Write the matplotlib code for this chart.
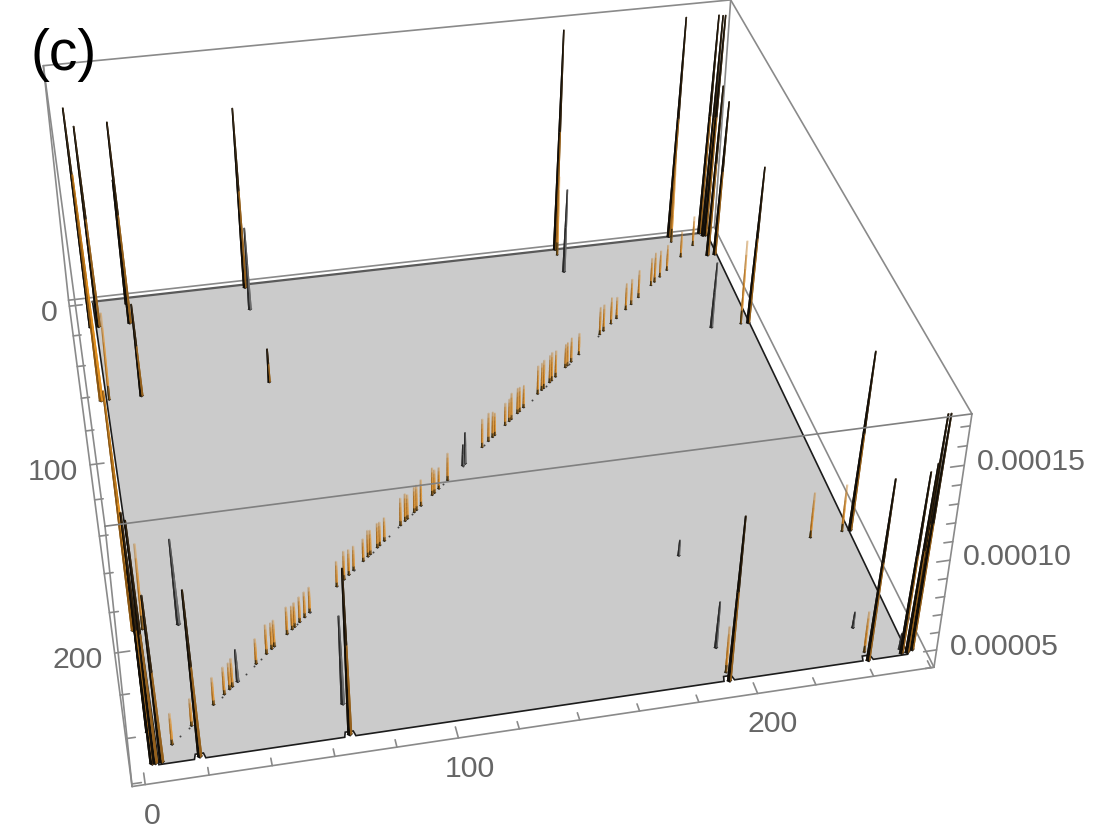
import numpy as np
import matplotlib
matplotlib.use('Agg')
import matplotlib.pyplot as plt
from matplotlib.collections import PolyCollection
from matplotlib.colors import to_rgba

# spike positions on the 256 x 256 grid and heights (units of 1e-5)
tall_i = [3, 6, 18, 3, 4, 3, 6, 18, 18, 18, 65, 66, 192, 255, 240, 252, 254, 255, 256, 192,
          240, 253, 255, 254, 252, 255, 255, 66]
tall_j = [18, 18, 65, 254, 254, 240, 254, 254, 18, 5, 3, 254, 255, 191, 255, 254, 254, 253,
          253, 1, 1, 1, 3, 3, 17, 17, 65, 66]
tall_z = [16.9, 15.85, 9.6, 17.4, 17.0, 13.1, 13.2, 13.2, 15.9, 11.6, 14.8, 13.2, 13.2, 14.2,
          14.1, 14.1, 14.5, 16.9, 16.9, 17.2, 17.25, 17.2, 17.3, 17.3, 14.35, 13.4, 13.4, 6.2]

orange_i = [3, 3]
orange_j = [65, 192]
orange_z = [17.0, 17.1]

grey_i = [18, 65, 66, 192, 192, 192, 240, 240, 252]
grey_j = [192, 18, 240, 239, 17, 192, 239, 65, 252]
grey_z = [9.0, 9.1, 9.1, 6.8, 9.2, 5.1, 5.1, 8.1, 5.1]

# thin orange peaks off the diagonal
pale_i = [6, 6, 192, 252, 240, 240, 192, 240, 252, 248]
pale_j = [65, 192, 251, 191, 192, 251, 5, 5, 65, 9]
pale_z = [9.3, 9.0, 6.8, 6.9, 6.8, 6.5, 9.0, 9.3, 9.2, 6.0]

# near-diagonal row of small peaks
diag_i = [241, 233, 229, 226, 224, 217, 213, 210, 205, 202, 198, 196, 185, 181, 179, 178, 173,
          171, 170, 167, 166, 164, 157, 155, 154, 151, 150, 148, 143, 142, 140, 137, 121, 117,
          115, 114, 109, 107, 106, 103, 102, 100, 93, 91, 90, 87, 86, 84, 80, 78, 76, 73, 62,
          60, 58, 56, 55, 53, 48, 47, 45, 41, 32, 31, 29, 25, 17, 10]
diag_z = [5.76, 5.75, 5.81, 5.99, 5.87, 5.86, 5.74, 5.8, 5.49, 5.79, 5.79, 5.85, 5.48, 5.65,
          5.59, 5.59, 5.77, 5.89, 5.83, 5.88, 5.82, 5.88, 5.52, 5.64, 5.7, 5.75, 5.52, 5.51,
          5.51, 5.69, 5.86, 5.86, 5.79, 5.44, 5.55, 5.79, 5.72, 5.66, 5.66, 5.6, 5.78, 5.78,
          5.54, 5.54, 5.6, 5.59, 5.71, 5.48, 5.59, 5.65, 5.82, 5.64, 5.64, 5.64, 5.63, 5.58,
          5.52, 5.74, 5.69, 5.68, 5.85, 5.62, 5.79, 5.68, 5.73, 5.73, 5.72, 5.94]
diag_grey_i = [129, 128, 34]
diag_grey_z = [6.03, 5.44, 6.01]
speck_i = [13, 16, 28, 37, 40, 43, 57, 62, 80, 88, 95, 99, 105, 119, 128, 138, 161, 168, 180, 195]

x_ticks = np.arange(0, 261, 20)
y_ticks = np.arange(0, 261, 20)
z_ticks = np.arange(4, 18)

lo, hi = -4.1, 261.1
z_lo, z_hi = 4.0, 17.6
plane_z = 4.2
plane_left, plane_right, plane_back, plane_front = 5.0, 254.0, 1.0, 255.0

# perspective camera from the eight corners of the bounding box (pixels)
box_pts = [(lo, lo, z_lo), (hi, lo, z_lo), (hi, hi, z_lo), (lo, hi, z_lo),
           (lo, lo, z_hi), (hi, lo, z_hi), (hi, hi, z_hi), (lo, hi, z_hi)]
box_px = [(68, 300), (715, 228), (934, 668), (132, 785),
          (44, 65), (730, 0), (972, 412), (105, 529)]
rows = []
for (x, y, z), (u, v) in zip(box_pts, box_px):
    rows.append([x, y, z, 1, 0, 0, 0, 0, -u*x, -u*y, -u*z, -u])
    rows.append([0, 0, 0, 0, x, y, z, 1, -v*x, -v*y, -v*z, -v])
cam = np.linalg.svd(np.array(rows))[2][-1].reshape(3, 4)


def project(x, y, z):
    w = cam @ np.array([x, y, z, 1.0])
    return w[0]/w[2], w[1]/w[2]


def ring(i, j, z, hw):
    # west, north, east, south corners of a square cross-section
    return [project(i-hw, j, z), project(i, j-hw, z), project(i+hw, j, z), project(i, j+hw, z)]


def column(i0, i1, j, z0, z1, w0, w1, left, right):
    # one tapered section: back faces first, then the two facing the camera
    a = ring(i0, j, z0, w0)
    b = ring(i1, j, z1, w1)
    return [([a[0], a[1], b[1], b[0]], left), ([a[1], a[2], b[2], b[1]], right),
            ([a[0], a[3], b[3], b[0]], left), ([a[3], a[2], b[2], b[3]], right)]


def solid_spike(i, j, z, left, right, tip):
    hw = 1.0 - 0.6*plane_z/z
    di = (i-128)*0.017*(z-plane_z)/13.0    # tips splay outwards slightly
    zm = plane_z + 0.55*(z-plane_z)
    wm = hw + 0.55*(0.3-hw)
    im = i + 0.55*di
    return ([(ring(i, j, plane_z, hw+0.25), '#141414')]
            + column(i, im, j, plane_z, zm, hw, wm, left, right)
            + column(im, i+di, j, zm, z, wm, 0.3, left, tip))


def pale_spike(i, j, z, left, right, tip):
    # narrow peak that washes out towards its tip
    out = [(ring(i, j, plane_z, 0.7), '#141414')]
    levels = np.linspace(plane_z, z, 7)
    fade = [1.0, 1.0, 0.9, 0.75, 0.55, 0.3]
    for k in range(6):
        lc = to_rgba('#40300f' if k == 0 else left, fade[k])
        rc = to_rgba('#8a5c1e' if k == 0 else right, fade[k])
        out += column(i, i, j, levels[k], levels[k+1], 0.42, 0.38, lc, rc)
    return out


peaks = []
for i, j, z in zip(tall_i, tall_j, tall_z):
    peaks.append((j, i, z, solid_spike, '#120e08', '#94601c', '#33230e'))
for i, j, z in zip(orange_i, orange_j, orange_z):
    peaks.append((j, i, z, solid_spike, '#8a5612', '#e3901d', '#c27a18'))
for i, j, z in zip(grey_i, grey_j, grey_z):
    peaks.append((j, i, z, solid_spike, '#2a2a2a', '#6c6c6c', '#5a5a5a'))
for i, j, z in zip(pale_i, pale_j, pale_z):
    peaks.append((j, i, z, pale_spike, '#a66a1e', '#e09a3e', None))
for i, z in zip(diag_i, diag_z):
    peaks.append((257-i, i, z, pale_spike, '#a66a1e', '#e09a3e', None))
for i, z in zip(diag_grey_i, diag_grey_z):
    peaks.append((257-i, i, z, solid_spike, '#2a2a2a', '#6c6c6c', '#5a5a5a'))
peaks.sort(key=lambda p: (p[0], p[1]))

polys, colors = [], []
for j, i, z, shape, left, right, tip in peaks:
    for pts, c in shape(i, j, z, left, right, tip):
        polys.append(pts)
        colors.append(c)

# floor outline, notched where a peak sits on the front edge
front_cols = sorted({i for i, j in zip(tall_i + grey_i, tall_j + grey_j)
                     if j >= 253 and 10 < i < 245})
floor = [(plane_left, plane_back), (256.0, plane_back), (plane_right, plane_front)]
for i in reversed(front_cols):
    floor += [(i+1.8, plane_front), (i+1.3, plane_front-2.2), (i-1.3, plane_front-2.2),
              (i-1.8, plane_front)]
floor.append((plane_left, plane_front))
floor_px = [project(x, y, plane_z) for x, y in floor]

fig = plt.figure(figsize=(11.18, 8.33), dpi=100)
ax = fig.add_axes([0, 0, 1, 1])
ax.set_xlim(0, 1118)
ax.set_ylim(833, 0)
ax.axis('off')

frame = '#8a8a8a'
label_color = '#666666'


def edge(a, b, zorder=1, color=frame, lw=1.2):
    pa, pb = project(*a), project(*b)
    ax.plot([pa[0], pb[0]], [pa[1], pb[1]], color=color, lw=lw, zorder=zorder,
            solid_capstyle='round', clip_on=False)


# frame lines behind the floor
for a, b in [((lo, lo, z_lo), (hi, lo, z_lo)), ((lo, lo, z_lo), (lo, lo, z_hi)),
             ((hi, lo, z_lo), (hi, lo, z_hi)), ((lo, lo, z_hi), (hi, lo, z_hi)),
             ((lo, lo, z_hi), (lo, hi, z_hi)), ((hi, lo, z_hi), (hi, hi, z_hi)),
             ((lo, lo, z_lo), (lo, hi, z_lo)), ((hi, lo, z_lo), (hi, hi, z_lo)),
             ((lo, hi, z_lo), (hi, hi, z_lo)), ((lo, hi, z_lo), (lo, hi, z_hi)),
             ((hi, hi, z_lo), (hi, hi, z_hi))]:
    edge(a, b)

ax.fill(*zip(*floor_px), facecolor='#cbcbcb', edgecolor='none', zorder=2)
outline = floor_px[1:] + floor_px[:1]
ax.plot(*zip(*outline), color='#1c1c1c', lw=1.2, zorder=2, solid_joinstyle='miter')
ax.plot(*zip(*floor_px[:2]), color='#5a5a5a', lw=1.6, zorder=2)

ax.add_collection(PolyCollection(polys, facecolors=colors, edgecolors='none', zorder=3))

speck_px = [project(i, 257-i, plane_z) for i in speck_i]
ax.plot(*zip(*speck_px), ls='none', marker='o', ms=1.4, mew=0, color='#444444', zorder=3)

# front top edge crosses in front of everything
edge((lo, hi, z_hi), (hi, hi, z_hi), zorder=4, color='#808080')

# ticks
for t in x_ticks:
    size = 5.0 if t % 100 == 0 else 3.3
    edge((t, hi, z_lo), (t, hi-size, z_lo))
for t in y_ticks:
    size = 5.0 if t % 100 == 0 else 3.0
    edge((lo, t, z_lo), (lo+size, t, z_lo))
for t in z_ticks:
    size = 4.5 if t % 5 == 0 else 3.0
    edge((hi, hi, t), (hi-size, hi, t))

font = dict(family='Liberation Sans', fontsize=21.8, color=label_color)
for t in [0, 100, 200]:
    px, py = project(t, hi, z_lo)
    ax.text(px+7+0.04*t, py+31, str(t), ha='center', va='center', **font)
    px, py = project(lo, t, z_lo)
    ax.text(px-12, py+7, str(t), ha='right', va='center', **font)
for t, s in [(5, '0.00005'), (10, '0.00010'), (15, '0.00015')]:
    px, py = project(hi, hi, t)
    ax.text(px+13, py-3, s, ha='left', va='center', **font)

ax.text(31, 55, '(c)', ha='left', va='center', family='Liberation Sans', fontsize=41,
        color='black', zorder=6)

fig.savefig('out.png', dpi=100)
